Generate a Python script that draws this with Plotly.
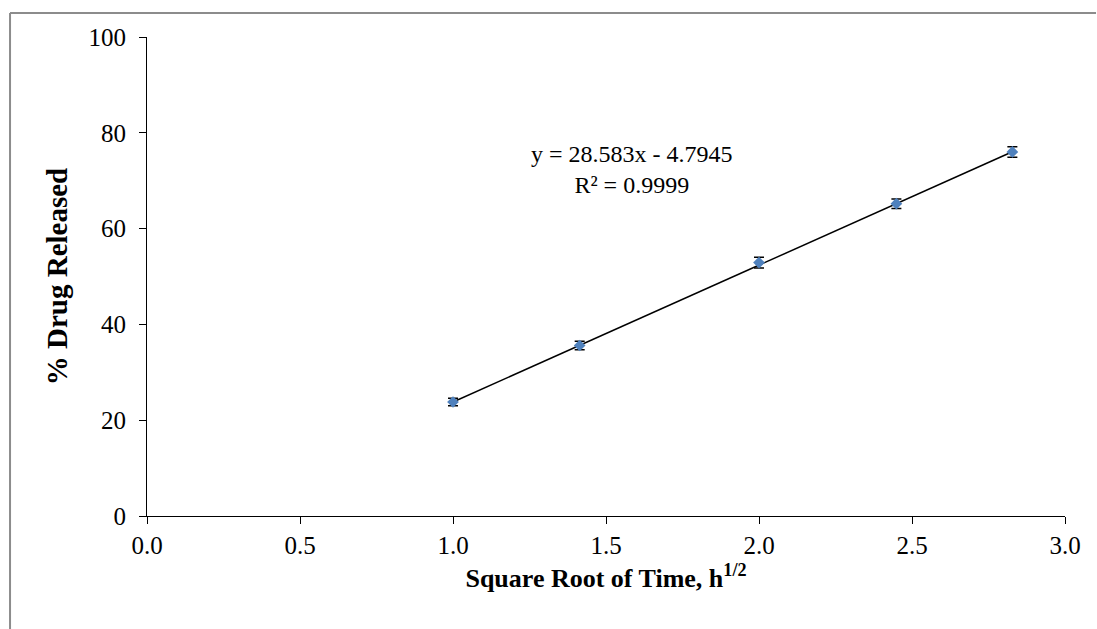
import plotly.graph_objects as go

# Release data (Higuchi plot)
sqrt_time = [1.0, 1.414, 2.0, 2.449, 2.828]
drug_released = [23.8, 35.6, 52.9, 65.2, 76.0]
released_sd = [0.8, 0.9, 1.1, 1.0, 1.1]

slope = 28.583
intercept = -4.7945
r_squared = 0.9999

x_ticks = [0.0, 0.5, 1.0, 1.5, 2.0, 2.5, 3.0]
y_ticks = [0, 20, 40, 60, 80, 100]

serif = "Liberation Serif, Times New Roman, serif"

fit_x = [sqrt_time[0], sqrt_time[-1]]
fit_y = [slope * v + intercept for v in fit_x]

fig = go.Figure()

fig.add_trace(go.Scatter(
    x=fit_x, y=fit_y, mode="lines",
    line=dict(color="black", width=1.5),
    hoverinfo="skip", showlegend=False,
))

fig.add_trace(go.Scatter(
    x=sqrt_time, y=drug_released, mode="markers",
    marker=dict(symbol="diamond", size=9, color="#4F81BD"),
    error_y=dict(type="data", array=released_sd, visible=True,
                 color="black", thickness=1.5, width=5),
    showlegend=False,
))

fig.add_annotation(
    x=1.585, y=72.3, xref="x", yref="y",
    text=f"y = {slope}x - {abs(intercept)}<br>R² = {r_squared}",
    showarrow=False, align="center",
    font=dict(family=serif, size=24, color="black"),
)

# outer chart frame (top and left edges visible)
frame = dict(type="line", xref="paper", yref="paper",
             line=dict(color="#8c8c8c", width=2), layer="below")
fig.add_shape(x0=-0.1492, x1=1.0338, y0=1.0501, y1=1.0501, **frame)
fig.add_shape(x0=-0.1492, x1=-0.1492, y0=1.0501, y1=-0.3, **frame)

axis_common = dict(
    showgrid=False, zeroline=False, showline=True,
    linecolor="black", linewidth=1,
    ticks="outside", ticklen=7, tickcolor="black", tickwidth=1,
    tickfont=dict(family=serif, size=25, color="black"),
)

fig.update_xaxes(
    range=[0, 3], tickvals=x_ticks, tickformat=".1f",
    title=dict(text="<b>Square Root of Time, h<sup>1/2</sup></b>",
               font=dict(family=serif, size=26, color="black"), standoff=10),
    **axis_common,
)
fig.update_yaxes(
    range=[0, 100], tickvals=y_ticks, ticklabelstandoff=8,
    title=dict(text="<b>% Drug Released</b>",
               font=dict(family=serif, size=29, color="black"), standoff=12),
    **axis_common,
)

fig.update_layout(
    width=1097, height=629,
    margin=dict(l=147, r=32, t=37, b=113),
    paper_bgcolor="white", plot_bgcolor="white",
)

fig.write_html("out.html")
